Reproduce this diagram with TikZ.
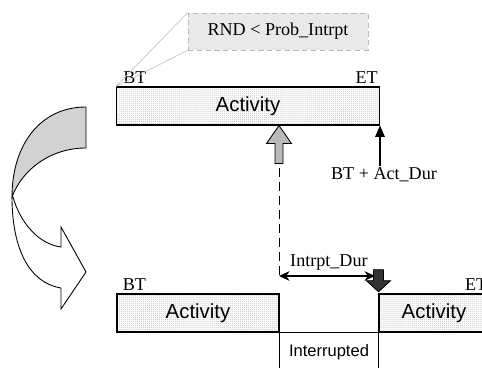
\documentclass[tikz,border=0pt]{standalone}
\usepackage{fontspec}
\setmainfont{Liberation Serif}
\setsansfont{Liberation Sans}
\usetikzlibrary{arrows.meta,patterns.meta}
\tikzset{
	bar/.style={draw,line width=0.6pt,preaction={fill=gray!4},
		pattern={Dots[distance=1.15pt,radius=0.22pt]},pattern color=gray!60,
		minimum height=0.76cm,inner sep=0pt,
		font=\sffamily\fontsize{11.6}{13}\selectfont},
	lbl/.style={inner sep=1pt,font=\fontsize{10.3}{12}\selectfont},
	blk/.style={draw,line width=0.5pt,line join=miter},
}
\begin{document}
\begin{tikzpicture}[x=0.02cm,y=-0.02cm,line width=0.6pt]
			\useasboundingbox (0,0) rectangle (482,368);
			\clip (0,0) rectangle (482,368);
			%Mui ten cong
			\draw[blk,fill=gray!35] (86,107) .. controls (40,107) and (12,145) .. (12,197)
				.. controls (22,170) and (50,148) .. (86,148) -- cycle;
			\draw[blk,fill=white] (12,197) .. controls (12,250) and (30,283) .. (61,288)
				-- (61,309) -- (86,272) -- (61,227) -- (61,247)
				.. controls (38,244) and (20,222) .. (13,197) -- cycle;
			%Khung 1
			\node[bar,minimum width=5.26cm] (bar1) at (248,106) {Activity};
			\node[lbl,anchor=base west] (bt1) at ([shift={(5,-3)}]bar1.north west) {BT};
			\node[lbl,anchor=base east] (et1) at ([shift={(0,-3)}]bar1.north east) {ET};
			%Dieu kien
			\node[lbl,draw=gray!55,densely dashed,line width=0.4pt,fill=gray!17,
				minimum width=3.6cm,minimum height=0.74cm] (cond) at (278,31.5) {RND < Prob\_Intrpt};
			\draw[gray!45,line width=0.4pt] (cond.north west) -- (bar1.north west)
				(cond.south west) -- (bar1.north west);
			%Mui ten ngat
			\coordinate (hit) at (bar1.south -| 279,0);
			\draw[blk,fill=gray!55] (hit) -- ++(12.5,18) -- ++(-8.5,0) -- ++(0,20)
				-- ++(-8,0) -- ++(0,-20) -- ++(-8.5,0) -- cycle;
			%Ket thuc
			\node[lbl] (actdur) at (384,175) {BT + Act\_Dur};
			\draw[-{Triangle[length=6.5pt,width=5.5pt]}] (actdur.north -| bar1.south east) -- (bar1.south east);
			%Khung 2
			\node[bar,minimum width=3.24cm] (bar2) at (198,313) {Activity};
			\node[bar,minimum width=2.2cm] (bar3) at (434,313) {Activity};
			\node[lbl,anchor=base west] (bt2) at ([shift={(4,-3)}]bar2.north west) {BT};
			\node[lbl,anchor=base east] (et2) at ([shift={(0,-3)}]bar3.north east) {ET};
			\draw (bar2.south east) -- (bar3.south west);
			\draw (bar2.south east) -- (bar2.south east |- 0,368);
			\draw (bar3.south west) -- (bar3.south west |- 0,368);
			\node[inner sep=0pt,font=\sffamily\fontsize{9.4}{11}\selectfont] (intr) at (329,352) {Interrupted};
			%Thoi gian ngat
			\coordinate (s) at (279,276);
			\coordinate (e) at (375,276);
			\draw[line width=0.5pt,dash pattern=on 5pt off 3pt] (hit |- 0,168) -- (s);
			\draw[{Stealth[length=6pt,width=5.5pt]}-{Stealth[length=6pt,width=5.5pt]}] (s) -- (e)
				node[lbl,pos=0.52,above=2pt] (dur) {Intrpt\_Dur};
			\draw[blk,fill=black!80] ([yshift=1]bar3.north west) -- ++(12,-11) -- ++(-7,0) -- ++(0,-11)
				-- ++(-10,0) -- ++(0,11) -- ++(-7,0) -- cycle;
\end{tikzpicture}
\end{document}
